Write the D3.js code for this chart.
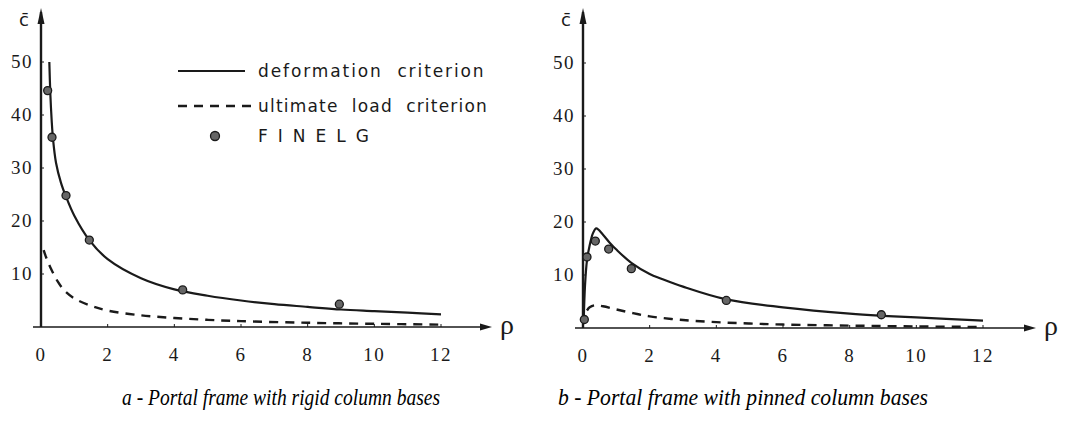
<!DOCTYPE html>
<html>
<head>
<meta charset="utf-8">
<script src="https://cdn.jsdelivr.net/npm/d3@7"></script>
<style>
  body { margin: 0; background: #fff; }
  svg { display: block; }
</style>
</head>
<body>
<script>
// chart values
var rhoTicks = [0, 2, 4, 6, 8, 10, 12];
var cTicks = [10, 20, 30, 40, 50];

// a - rigid column bases
var rigidDeformation = [[0.25,50],[0.28,44],[0.32,39],[0.36,35.5],[0.45,31],[0.6,27.2],[0.75,24.6],[1,21],[1.45,16.4],[2,12.8],[3,9.2],[4,7.1],[5,5.9],[6,5],[7,4.3],[8,3.8],[9,3.3],[10,3],[11,2.7],[12,2.4]];
var rigidUltimate = [[0.08,14.5],[0.15,13.2],[0.3,11],[0.5,8.6],[0.7,6.9],[1,5.4],[1.5,4.0],[2,3.1],[3,2.2],[4,1.7],[5,1.35],[6,1.1],[8,0.8],[10,0.6],[12,0.45]];
var rigidFinelg = [[0.2,44.6],[0.33,35.8],[0.75,24.8],[1.45,16.4],[4.25,7.0],[8.95,4.3]];

// b - pinned column bases
var pinnedDeformation = [[0.02,1],[0.06,8],[0.12,12.8],[0.19,15.3],[0.3,17.9],[0.4,18.8],[0.6,17.6],[0.8,16.1],[1,14.8],[1.45,12.3],[2,10.2],[2.35,9.3],[3,7.8],[4.3,5.4],[6,3.9],[8,2.7],[9,2.3],[10,2],[12,1.4]];
var pinnedUltimate = [[0.12,3.3],[0.2,3.9],[0.35,4.3],[0.6,4.1],[1,3.5],[1.5,2.8],[2,2.2],[3,1.5],[4,1.1],[5,0.85],[6,0.65],[8,0.45],[10,0.3],[12,0.2]];
var pinnedFinelg = [[0.04,1.6],[0.12,13.4],[0.37,16.4],[0.77,14.9],[1.45,11.2],[4.3,5.2],[8.95,2.5]];

var legendLabels = ["deformation  criterion", "ultimate  load  criterion", "FINELG"];
var captions = ["a - Portal frame with rigid column bases", "b - Portal frame with pinned column bases"];

var w = 1074;
var h = 440;

var svg = d3.select("body")
  .append("svg")
  .attr("width", w)
  .attr("height", h);

var ink = "#1a1a1a";

// one panel = one pair of axes with its curves
function drawPanel(x0, axisEnd, yBase, deformation, ultimate, finelg, caption, captionX, captionLen) {

  var x = d3.scaleLinear().domain([0, 12]).range([x0, x0 + 400]);
  var y = d3.scaleLinear().domain([0, 50]).range([yBase, yBase - 265]);

  var g = svg.append("g");

  // x axis with arrow
  g.append("line")
    .attr("x1", x0 - 8).attr("x2", axisEnd)
    .attr("y1", yBase).attr("y2", yBase)
    .attr("stroke", ink).attr("stroke-width", 1.6);
  g.append("path")
    .attr("d", "M" + (axisEnd + 4) + "," + yBase + " l-12,-3.5 l0,7 z")
    .attr("fill", ink);

  // y axis with arrow
  g.append("line")
    .attr("x1", x0).attr("x2", x0)
    .attr("y1", yBase).attr("y2", 12)
    .attr("stroke", ink).attr("stroke-width", 2.4);
  g.append("path")
    .attr("d", "M" + x0 + ",8 l-3.5,16 l7,0 z")
    .attr("fill", ink);

  // small ticks
  g.selectAll(".xt").data(rhoTicks.slice(1)).enter().append("line")
    .attr("x1", function(d) { return x(d); }).attr("x2", function(d) { return x(d); })
    .attr("y1", yBase).attr("y2", yBase - 3)
    .attr("stroke", ink).attr("stroke-width", 1);
  g.selectAll(".yt").data(cTicks).enter().append("line")
    .attr("x1", x0).attr("x2", x0 + 3)
    .attr("y1", function(d) { return y(d); }).attr("y2", function(d) { return y(d); })
    .attr("stroke", ink).attr("stroke-width", 1);

  // tick labels
  g.selectAll(".xl").data(rhoTicks).enter().append("text")
    .attr("x", function(d) { return x(d); })
    .attr("y", yBase + 34)
    .attr("text-anchor", "middle")
    .style("font-family", "Liberation Serif, serif")
    .style("font-size", "19px")
    .style("letter-spacing", "1.5px")
    .attr("fill", ink)
    .text(function(d) { return d; });
  g.selectAll(".yl").data(cTicks).enter().append("text")
    .attr("x", x0 - 8)
    .attr("y", function(d) { return y(d) + 6; })
    .attr("text-anchor", "end")
    .style("font-family", "Liberation Serif, serif")
    .style("font-size", "19px")
    .style("letter-spacing", "1.5px")
    .attr("fill", ink)
    .text(function(d) { return d; });

  // axis names
  g.append("text")
    .attr("x", x0 - 17).attr("y", 26)
    .attr("text-anchor", "middle")
    .style("font-family", "DejaVu Sans, sans-serif")
    .style("font-size", "18px")
    .attr("fill", ink)
    .text("c\u0304");
  g.append("text")
    .attr("x", axisEnd + 19).attr("y", yBase + 7)
    .attr("text-anchor", "middle")
    .style("font-family", "Liberation Serif, serif")
    .style("font-size", "28px")
    .attr("fill", ink)
    .text("\u03c1");

  var line = d3.line()
    .x(function(d) { return x(d[0]); })
    .y(function(d) { return y(d[1]); })
    .curve(d3.curveCatmullRom.alpha(0.5));

  g.append("path")
    .datum(deformation)
    .attr("d", line)
    .attr("fill", "none")
    .attr("stroke", ink)
    .attr("stroke-width", 2.2);

  g.append("path")
    .datum(ultimate)
    .attr("d", line)
    .attr("fill", "none")
    .attr("stroke", ink)
    .attr("stroke-width", 2.4)
    .attr("stroke-dasharray", "9,7");

  g.selectAll(".dot").data(finelg).enter().append("circle")
    .attr("cx", function(d) { return x(d[0]); })
    .attr("cy", function(d) { return y(d[1]); })
    .attr("r", 4)
    .attr("fill", "#666")
    .attr("stroke", ink)
    .attr("stroke-width", 1.3);

  // caption, squeezed a little like the condensed italic of the original
  svg.append("text")
    .attr("x", captionX).attr("y", 405)
    .attr("textLength", captionLen)
    .attr("lengthAdjust", "spacingAndGlyphs")
    .style("font-family", "Liberation Serif, serif")
    .style("font-style", "italic")
    .style("font-size", "23px")
    .attr("fill", "#000")
    .text(caption);
}

drawPanel(41, 488, 327, rigidDeformation, rigidUltimate, rigidFinelg, captions[0], 122, 318);
drawPanel(583, 1032, 328, pinnedDeformation, pinnedUltimate, pinnedFinelg, captions[1], 558, 370);

// legend in the left panel
var legend = svg.append("g");
legend.append("line")
  .attr("x1", 178).attr("x2", 245).attr("y1", 71).attr("y2", 71)
  .attr("stroke", ink).attr("stroke-width", 2.2);
legend.append("line")
  .attr("x1", 178).attr("x2", 252).attr("y1", 106).attr("y2", 106)
  .attr("stroke", ink).attr("stroke-width", 2.4)
  .attr("stroke-dasharray", "9,7");
legend.append("circle")
  .attr("cx", 215).attr("cy", 136).attr("r", 4.5)
  .attr("fill", "#666").attr("stroke", ink).attr("stroke-width", 1.3);

legend.selectAll(".lt").data(legendLabels).enter().append("text")
  .attr("x", 258)
  .attr("y", function(d, i) { return [77, 112, 142][i]; })
  .attr("xml:space", "preserve")
  .style("white-space", "pre")
  .style("font-family", "DejaVu Sans, sans-serif")
  .style("font-size", "17px")
  .style("letter-spacing", function(d, i) { return [1.9, 1.2, 10][i] + "px"; })
  .attr("fill", ink)
  .text(function(d) { return d; });
</script>
</body>
</html>
